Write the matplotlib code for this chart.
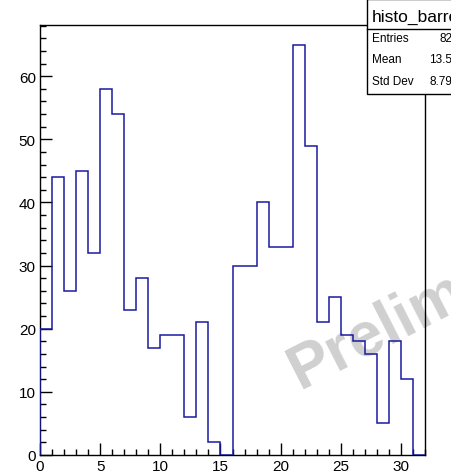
import numpy as np
import matplotlib.pyplot as plt
from matplotlib.patches import Rectangle
from matplotlib.ticker import MultipleLocator

plt.rcParams['font.family'] = ['Liberation Sans', 'DejaVu Sans']

# bin contents, 32 bins of width 1 from 0 to 32
edges = np.arange(0, 33)
counts = [20, 44, 26, 45, 32, 58, 54, 23, 28, 17, 19, 19, 6, 21, 2, 0,
          30, 30, 40, 33, 33, 65, 49, 21, 25, 19, 18, 16, 5, 18, 12, 0]
hname = "histo_barrel"

# entries were filled at the integer value (left edge of each bin)
xfill = edges[:-1]
w = np.array(counts, dtype=float)
entries = int(w.sum())
mean = (w * xfill).sum() / w.sum()
std = np.sqrt((w * (xfill - mean) ** 2).sum() / w.sum())

W, H = 452, 477
fig = plt.figure(figsize=(W / 100, H / 100), dpi=100)
ax = fig.add_axes([40 / W, 1 - 456 / H, 385 / W, 430 / H])

ax.stairs(counts, edges, color='#1a1aa0', lw=1.1, zorder=3)

ax.set_xlim(0, 32)
ax.set_ylim(0, 68.1)
ax.xaxis.set_major_locator(MultipleLocator(5))
ax.xaxis.set_minor_locator(MultipleLocator(1))
ax.yaxis.set_major_locator(MultipleLocator(10))
ax.yaxis.set_minor_locator(MultipleLocator(2))
ax.tick_params(which='both', direction='in', top=False, right=False,
               labelsize=11, width=1, colors='black')
ax.tick_params(which='major', length=8.5, pad=3)
ax.tick_params(which='minor', length=4.3)
for s in ax.spines.values():
    s.set_linewidth(1)

# watermark
ax.text(21.6, 10.6, "Preliminary", rotation=27, rotation_mode='anchor',
        ha='left', va='baseline', fontsize=45, fontweight='bold',
        color='#d0d0d0', clip_on=False, zorder=1)

# stats box
bx0, by0, bx1, by1 = 367, 0, 470, 95
fig.patches.append(Rectangle((bx0 / W, 1 - by1 / H), (bx1 - bx0) / W, (by1 - by0) / H,
                             transform=fig.transFigure, facecolor='white',
                             edgecolor='black', lw=1, zorder=5))
fig.lines.append(plt.Line2D([bx0 / W, 1], [1 - 30 / H, 1 - 30 / H],
                            transform=fig.transFigure, color='black', lw=1, zorder=6))
fig.text(372 / W, 1 - 17 / H, hname, ha='left', va='center', fontsize=12.5, zorder=7)
rows = [("Entries", f"{entries}"), ("Mean", f"{mean:.4g}"), ("Std Dev", f"{std:.4g}")]
for i, (lab, val) in enumerate(rows):
    yy = 1 - (39 + 21.5 * i) / H
    fig.text(372 / W, yy, lab, ha='left', va='center', fontsize=8.5, zorder=7)
    fig.text(459 / W, yy, val, ha='right', va='center', fontsize=8.5, zorder=7)

fig.savefig("out.png", dpi=100)
